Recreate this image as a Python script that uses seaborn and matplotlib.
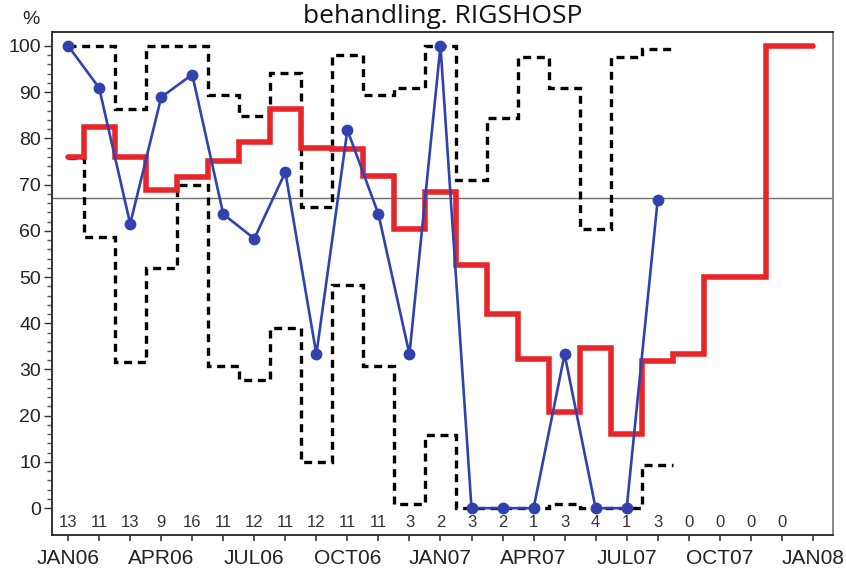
import numpy as np
import matplotlib.pyplot as plt
import matplotlib.ticker as mticker
import seaborn as sns

# month index 0 = JAN06
tick_labels = ["JAN06", "APR06", "JUL06", "OCT06", "JAN07",
               "APR07", "JUL07", "OCT07", "JAN08"]

# number of patients per month (printed along the bottom)
counts = [13, 11, 13, 9, 16, 11, 12, 11, 12, 11, 11, 3,
          2, 3, 2, 1, 3, 4, 1, 3, 0, 0, 0, 0]

# monthly percentage (blue)
monthly_pct = [100, 90.9, 61.5, 88.9, 93.8, 63.6, 58.3, 72.7, 33.3, 81.8,
               63.6, 33.3, 100, 0, 0, 0, 33.3, 0, 0, 66.7]

# running percentage (red step line)
running_pct = [75.9, 82.5, 76.0, 68.8, 71.7, 75.1, 79.2, 86.4, 78.0, 77.6,
               71.9, 60.4, 68.3, 52.6, 42.1, 32.2, 20.8, 34.6, 16.0, 31.9,
               33.3, 50.0, 50.0, 100, 100]

# upper / lower limits (dashed)
upper_lim = [100, 100, 86.3, 100, 100, 89.4, 84.8, 94.2, 65.2, 98.0,
             89.4, 90.8, 100, 71.0, 84.3, 97.7, 90.8, 60.3, 97.7, 99.3]
lower_lim = [75.7, 58.7, 31.7, 51.9, 69.9, 30.7, 27.8, 39.0, 10.0, 48.3,
             30.7, 1.0, 15.8, 0, 0, 0, 1.0, 0, 0, 9.3]

standard = 67

title = "behandling. RIGSHOSP"

sns.set_theme(style="ticks")
plt.rcParams["font.family"] = ["Liberation Sans", "DejaVu Sans"]

fig, ax = plt.subplots(figsize=(8.46, 5.70), dpi=100)
fig.subplots_adjust(left=52 / 846, right=833 / 846,
                    bottom=1 - 535 / 570, top=1 - 32 / 570)

ax.axhline(standard, color="#6e6e6e", lw=1.0, zorder=1)

# dashed limits, steps change half way between months
for lim in (upper_lim, lower_lim):
    edges = np.r_[0, np.arange(len(lim)) + 0.5]
    ax.stairs(lim, edges, baseline=None, color="black", lw=2.4,
              linestyle=(0, (2.4, 1.7)), zorder=2)

sns.lineplot(x=np.arange(len(running_pct)), y=running_pct, ax=ax,
             color="#e8262a", lw=4.0, drawstyle="steps-mid",
             solid_joinstyle="miter", zorder=3)

sns.lineplot(x=np.arange(len(monthly_pct)), y=monthly_pct, ax=ax,
             color="#3142b0", lw=1.9, marker="o", markersize=8.5,
             markeredgewidth=0, sort=False, zorder=4)

for i, n in enumerate(counts):
    ax.text(i, -3, str(n), ha="center", va="center", fontsize=12,
            color="#333333", family=["Liberation Sans Narrow", "Liberation Sans"])

ax.set_xlim(-0.52, 24.65)
ax.set_ylim(-5.8, 103.0)
ax.set_xticks(np.arange(0, 25, 3))
ax.set_xticklabels(tick_labels)
ax.xaxis.set_minor_locator(mticker.FixedLocator(np.arange(0, 25)))
ax.set_yticks(np.arange(0, 101, 10))
ax.yaxis.set_minor_locator(mticker.FixedLocator(np.arange(0, 101, 2)))
ax.tick_params(axis="x", which="both", length=4, width=1.2, color="#333333",
               labelsize=15, pad=6, labelcolor="#222222")
ax.tick_params(axis="y", which="major", length=6, width=1.0, color="#333333",
               labelsize=14, pad=2, labelcolor="#222222")
ax.tick_params(axis="y", which="minor", length=3.5, width=1.0, color="#555555")
ax.set_xlabel("")
ax.set_ylabel("")

for side in ("left", "bottom", "top"):
    ax.spines[side].set_color("#333333")
    ax.spines[side].set_linewidth(1.4)
ax.spines["right"].set_color("#888888")
ax.spines["right"].set_linewidth(1.4)

fig.text(31 / 846, 1 - 20 / 570, "%", ha="center", va="center", fontsize=14,
         color="#222222")
fig.text((52 + 833) / 2 / 846, 1 - 29 / 570, title, ha="center", va="bottom",
         fontsize=19, family=["Open Sans", "DejaVu Sans"], color="#111111")

fig.savefig("out.png", dpi=100)
